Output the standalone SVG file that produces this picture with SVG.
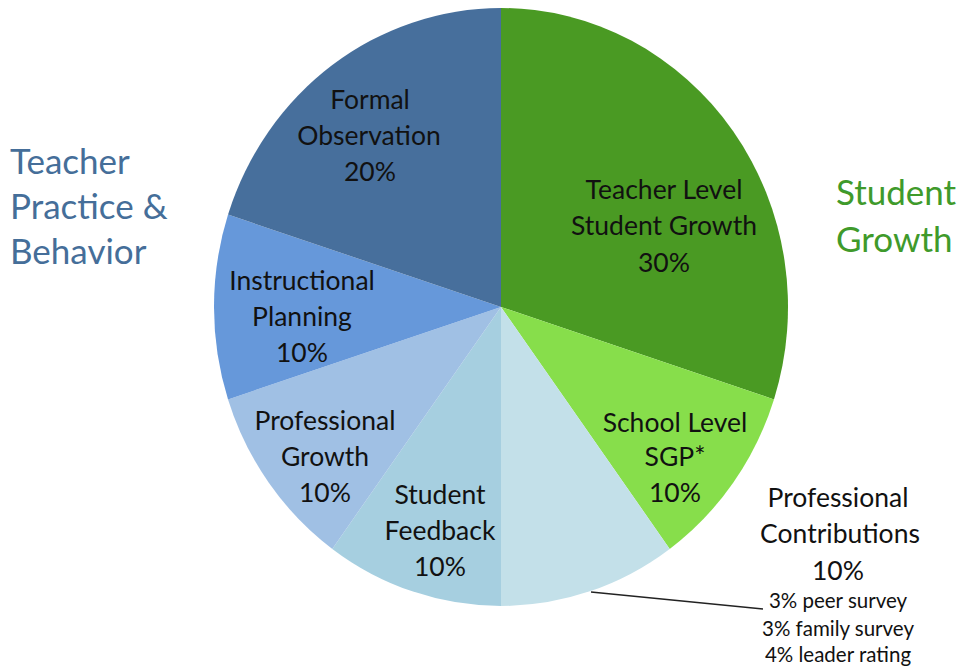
<svg xmlns="http://www.w3.org/2000/svg" width="962" height="670" viewBox="0 0 962 670">
<style>
.lbl{font-family:Lato,"Liberation Sans",sans-serif;font-size:26.5px;fill:#111;text-anchor:middle}
.small{font-family:Lato,"Liberation Sans",sans-serif;font-size:20.5px;fill:#111;text-anchor:middle}
.head{font-family:Lato,"Liberation Sans",sans-serif;font-size:35px}
</style>
<rect width="962" height="670" fill="#fff"/>
<g id="teacher-level">
<path d="M501,307 L501,8 A287,299 0 0 1 773.96,399.39 Z" fill="#4a9a23"/>
<text class="lbl"><tspan x="664" y="199">Teacher Level</tspan><tspan x="664" y="235">Student Growth</tspan><tspan x="664" y="272">30%</tspan></text>
</g>
<g id="school-level">
<path d="M501,307 L773.96,399.39 A287,299 0 0 1 669.7,548.9 Z" fill="#87de4b"/>
<text class="lbl"><tspan x="675" y="432">School Level</tspan><tspan x="675" y="466">SGP*</tspan><tspan x="675" y="502">10%</tspan></text>
</g>
<g id="professional-contributions">
<path d="M501,307 L669.7,548.9 A287,299 0 0 1 501,606 Z" fill="#c3e0e9"/>
<text class="lbl"><tspan x="838" y="507">Professional</tspan><tspan x="840" y="543">Contributions</tspan><tspan x="838" y="580">10%</tspan></text>
<text class="small"><tspan x="838" y="608">3% peer survey</tspan><tspan x="838" y="636">3% family survey</tspan><tspan x="838" y="662">4% leader rating</tspan></text>
</g>
<g id="student-feedback">
<path d="M501,307 L501,606 A287,299 0 0 1 332.3,548.9 Z" fill="#a6cfe0"/>
<text class="lbl"><tspan x="440" y="504">Student</tspan><tspan x="440" y="540">Feedback</tspan><tspan x="440" y="576">10%</tspan></text>
</g>
<g id="professional-growth">
<path d="M501,307 L332.3,548.9 A287,299 0 0 1 228.04,399.39 Z" fill="#a0c0e4"/>
<text class="lbl"><tspan x="325" y="430">Professional</tspan><tspan x="325" y="466">Growth</tspan><tspan x="325" y="502">10%</tspan></text>
</g>
<g id="instructional-planning">
<path d="M501,307 L228.04,399.39 A287,299 0 0 1 228.04,214.61 Z" fill="#6698da"/>
<text class="lbl"><tspan x="302" y="290">Instructional</tspan><tspan x="302" y="326">Planning</tspan><tspan x="302" y="362">10%</tspan></text>
</g>
<g id="formal-observation">
<path d="M501,307 L228.04,214.61 A287,299 0 0 1 501,8 Z" fill="#476f9c"/>
<text class="lbl"><tspan x="370" y="109">Formal</tspan><tspan x="369" y="145">Observation</tspan><tspan x="370" y="181">20%</tspan></text>
</g>
<g id="teacher-practice-heading">
<text class="head" fill="#456e99"><tspan x="10" y="174">Teacher</tspan><tspan x="10" y="219">Practice &amp;</tspan><tspan x="10" y="264">Behavior</tspan></text>
</g>
<g id="student-growth-heading">
<text class="head" fill="#3f9a2b"><tspan x="836" y="205">Student</tspan><tspan x="836" y="252">Growth</tspan></text>
</g>
<g id="connectors">
<line x1="591" y1="592" x2="763" y2="609" stroke="#222" stroke-width="1.5"/>
</g>
</svg>
